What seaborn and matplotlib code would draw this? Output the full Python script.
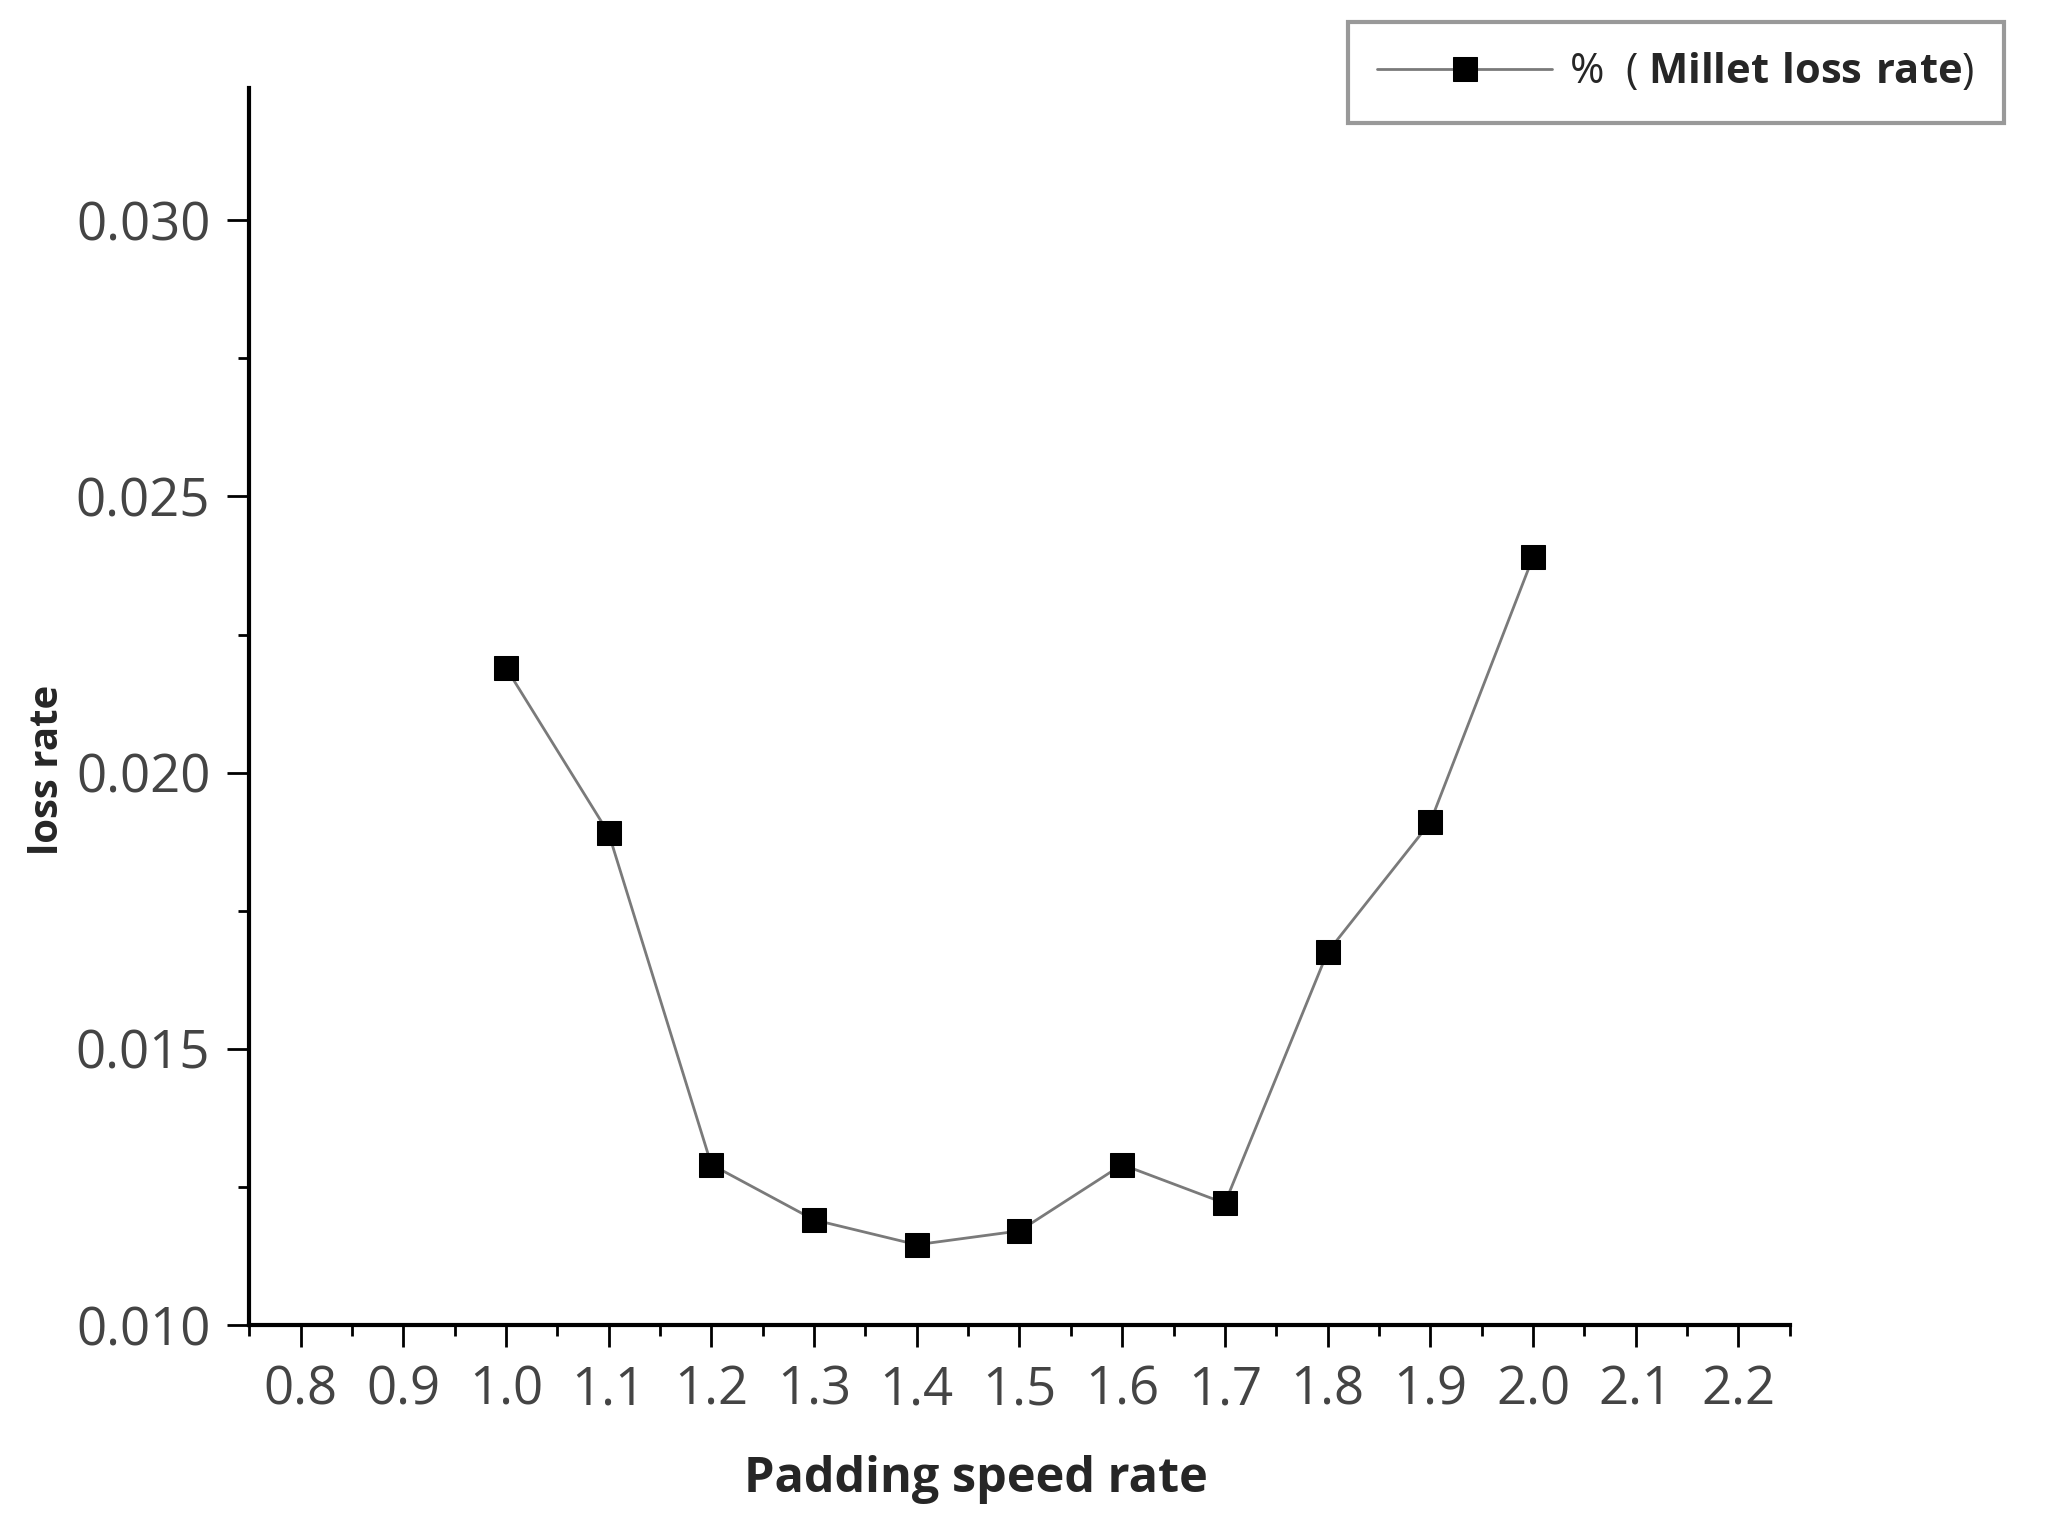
import pandas as pd
import seaborn as sns
import matplotlib.pyplot as plt
from matplotlib.ticker import MultipleLocator, FormatStrFormatter

# DATI
speed_rate = [1.0, 1.1, 1.2, 1.3, 1.4, 1.5, 1.6, 1.7, 1.8, 1.9, 2.0]
loss_rate = [0.0219, 0.0189, 0.0129, 0.0119, 0.01145, 0.0117, 0.0129, 0.0122, 0.01675, 0.0191, 0.0239]
x_ticks = [0.8, 0.9, 1.0, 1.1, 1.2, 1.3, 1.4, 1.5, 1.6, 1.7, 1.8, 1.9, 2.0, 2.1, 2.2]
y_ticks = [0.010, 0.015, 0.020, 0.025, 0.030]
series_label = r"%  ( $\mathbf{Millet\ loss\ rate}$)"

df = pd.DataFrame({"speed": speed_rate, "loss": loss_rate})

sns.set_style("ticks")
plt.rcParams['font.family'] = ['Open Sans', 'DejaVu Sans']
plt.rcParams['mathtext.fontset'] = 'custom'
plt.rcParams['mathtext.bf'] = 'Open Sans:bold'
plt.rcParams['mathtext.rm'] = 'Open Sans'

fig = plt.figure(figsize=(20.56, 15.28), dpi=100)
ax = fig.add_axes([0.1212, 0.133, 0.7493, 0.8095])

sns.lineplot(data=df, x="speed", y="loss", ax=ax, color="#7a7a7a", linewidth=2,
             marker="s", markersize=17, markerfacecolor="black", markeredgecolor="black",
             label=series_label, legend=False)

ax.set_xlim(0.75, 2.25)
ax.set_ylim(0.010, 0.0324)
ax.set_xticks(x_ticks)
ax.set_yticks(y_ticks)
ax.xaxis.set_major_formatter(FormatStrFormatter('%.1f'))
ax.yaxis.set_major_formatter(FormatStrFormatter('%.3f'))
ax.xaxis.set_minor_locator(MultipleLocator(0.05))
ax.yaxis.set_minor_locator(MultipleLocator(0.0025))

for side in ["top", "right"]:
    ax.spines[side].set_visible(False)
for side in ["left", "bottom"]:
    ax.spines[side].set_linewidth(3)
    ax.spines[side].set_color("black")

ax.tick_params(axis="both", which="major", direction="out", length=16, width=2,
               labelsize=38, labelcolor="#444444", color="black", pad=12)
ax.tick_params(axis="both", which="minor", direction="out", length=8, width=2, color="black")

ax.set_xlabel("Padding speed rate", fontsize=35, fontweight="bold")
ax.set_ylabel("loss rate", fontsize=29, fontweight="bold")
ax.xaxis.set_label_coords(0.472, -0.105)
ax.yaxis.set_label_coords(-0.118, 0.449)

leg = fig.legend(loc="upper right", bbox_to_anchor=(0.9745, 0.9854), fontsize=30,
                 handlelength=4.2, frameon=True, fancybox=False, borderpad=0.7,
                 handletextpad=0.4, borderaxespad=0)
leg.get_frame().set_edgecolor("#808080")
leg.get_frame().set_linewidth(3)

plt.savefig("out.png", dpi=100)
plt.close()
